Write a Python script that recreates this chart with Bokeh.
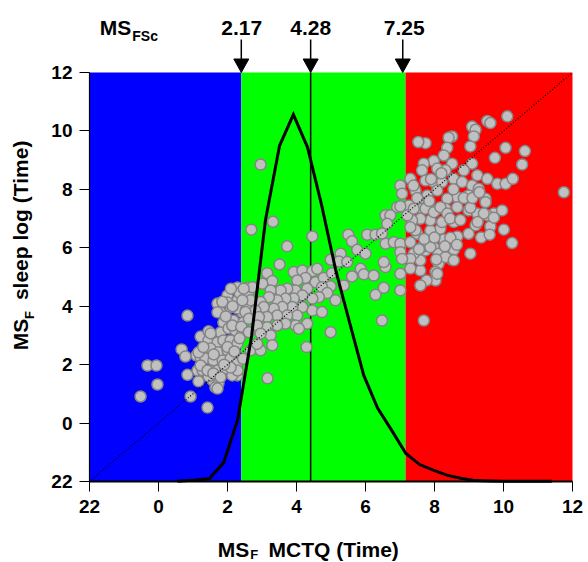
import math
from bokeh.plotting import figure
from bokeh.models import FixedTicker
from bokeh.core.properties import value
from bokeh.embed import file_html
from bokeh.resources import INLINE

FONT = "Liberation Sans"

# colour bands
region_left = [-2.0, 2.40, 7.16]
region_right = [2.40, 7.16, 12.0]
region_colors = ["#0000FF", "#00FF00", "#FF0000"]

# markers above the frame
marker_x = [2.40, 4.41, 7.08]
marker_text_x = [2.41, 4.41, 7.12]
marker_labels = ["2.17", "4.28", "7.25"]
vline_x = 4.41

tick_vals = [-2, 0, 2, 4, 6, 8, 10, 12]
tick_labels = ["22", "0", "2", "4", "6", "8", "10", "12"]

# distribution curve
curve_x = [0.55, 1.08, 1.48, 1.89, 2.29, 2.70, 3.10, 3.51, 3.91, 4.32, 4.73, 5.14, 5.54,
           5.95, 6.35, 6.76, 7.17, 7.57, 7.98, 8.38, 8.79, 9.20, 9.60, 10.0, 10.4, 10.8, 11.4]
curve_y = [-1.99, -1.95, -1.90, -1.35, 0.09, 3.00, 6.94, 9.50, 10.56, 9.44, 7.45, 5.22, 3.44,
           1.63, 0.51, -0.25, -1.04, -1.42, -1.62, -1.79, -1.90, -1.97, -1.98, -1.99, -1.99, -1.99, -1.99]

diag_x = [-2, 12]
diag_y = [-2, 12]

# scatter: MCTQ (x) vs sleep log (y)
cluster_pts = [
    (-0.52, 0.91), (-0.32, 1.97), (-0.06, 1.97), (-0.03, 1.32), (0.84, 3.68), (0.93, 0.91), (1.42, 0.53),
    (0.67, 2.52), (0.78, 2.28), (1.22, 2.96), (1.45, 3.14), (1.10, 2.31), (1.22, 2.25), (1.16, 1.43),
    (1.13, 1.80), (1.28, 1.80), (1.71, 4.09), (2.00, 4.37), (2.29, 4.64), (2.58, 4.64), (1.80, 3.79),
    (2.09, 3.96), (2.29, 4.20), (2.43, 3.79), (1.88, 3.44), (2.17, 3.51), (2.46, 3.44), (1.80, 3.10),
    (2.03, 3.24), (2.23, 3.17), (2.43, 3.07), (1.45, 2.83), (1.71, 2.76), (1.88, 2.83), (2.09, 2.83),
    (2.29, 2.72), (1.51, 2.55), (1.74, 2.42), (2.00, 2.49), (2.23, 2.38), (1.36, 2.21), (1.59, 2.14),
    (1.86, 2.14), (2.09, 2.21), (2.29, 2.04), (1.51, 1.80), (1.71, 1.80), (1.94, 1.87), (2.17, 1.70),
    (1.57, 1.46), (1.74, 1.36), (1.65, 1.22), (1.45, 1.60), (2.29, 1.63), (2.67, 2.49), (2.96, 2.49),
    (3.16, 1.53), (0.84, 1.65), (1.16, 2.42), (1.71, 3.79), (2.00, 4.13), (2.29, 3.92), (2.14, 3.34),
    (1.51, 3.07), (1.30, 2.60), (1.22, 1.97), (1.42, 1.80), (1.59, 1.70), (1.80, 1.57), (1.71, 1.18),
    (2.14, 1.63), (2.29, 1.80), (2.09, 1.90), (2.35, 4.45), (2.15, 4.00), (1.95, 3.65), (2.40, 3.30),
    (2.00, 2.60), (1.60, 2.35), (2.35, 2.90), (1.90, 2.00), (2.20, 2.45), (2.45, 2.20), (2.55, 3.90),
    (2.60, 4.40), (1.85, 4.15), (2.10, 4.60),
]
band_pts = [
    (2.69, 6.62), (3.32, 6.89), (2.96, 8.85), (4.46, 6.39), (3.73, 6.05), (5.50, 6.45), (5.61, 6.22),
    (6.05, 6.45), (6.29, 6.45), (6.58, 6.14), (6.82, 6.19), (5.76, 5.93), (6.00, 5.80), (5.28, 5.80),
    (4.99, 5.59), (5.23, 5.53), (5.47, 5.51), (3.51, 5.43), (3.15, 5.13), (3.30, 4.86), (3.92, 5.17),
    (4.17, 5.22), (4.46, 5.20), (4.60, 5.28), (4.26, 4.97), (4.02, 4.88), (4.55, 4.82), (4.79, 4.97),
    (5.03, 5.13), (5.86, 5.28), (5.95, 5.09), (6.24, 5.05), (6.58, 5.34), (5.61, 5.02), (5.37, 4.71),
    (3.01, 4.77), (4.99, 4.68), (4.74, 4.65), (4.31, 4.60), (3.97, 4.54), (3.73, 4.60), (3.54, 4.54),
    (3.25, 4.54), (2.72, 4.65), (2.47, 4.60), (6.29, 4.39), (6.53, 4.63), (4.89, 4.45), (4.65, 4.31),
    (4.46, 4.26), (4.17, 4.37), (3.92, 4.26), (3.68, 4.26), (3.44, 4.20), (3.20, 4.31), (2.96, 4.14),
    (2.67, 4.20), (2.43, 4.20), (5.13, 4.20), (4.46, 3.85), (4.74, 3.80), (4.17, 3.97), (3.88, 3.97),
    (3.59, 3.97), (3.34, 3.91), (3.05, 3.97), (2.81, 3.85), (2.52, 3.80), (4.02, 3.68), (3.73, 3.68),
    (3.44, 3.68), (3.15, 3.63), (2.91, 3.63), (2.62, 3.57), (3.97, 3.34), (3.68, 3.40), (3.44, 3.34),
    (3.15, 3.28), (2.86, 3.34), (4.31, 3.40), (4.99, 3.11), (6.48, 3.51), (4.07, 3.23), (3.25, 3.00),
    (2.96, 3.06), (2.62, 3.11), (2.86, 2.71), (3.30, 2.66), (4.29, 2.60), (6.92, 7.39), (6.58, 7.11),
    (6.72, 7.11), (6.63, 6.82), (6.48, 6.49), (7.01, 6.14), (7.01, 5.85), (6.53, 5.51), (7.01, 5.11),
    (7.01, 4.54),
]
late_pts = [
    (10.11, 10.50), (9.53, 10.34), (9.62, 10.27), (9.09, 10.15), (9.19, 10.04), (9.14, 9.81), (8.51, 9.81),
    (8.41, 9.77), (7.74, 9.58), (8.37, 9.42), (9.04, 9.47), (10.06, 9.42), (10.62, 9.31), (9.75, 9.08),
    (10.54, 8.85), (8.27, 9.16), (8.51, 8.88), (7.98, 8.97), (7.69, 8.88), (7.64, 8.65), (8.08, 8.71),
    (8.32, 8.65), (9.09, 8.88), (8.85, 8.65), (9.24, 8.48), (9.53, 8.36), (9.82, 8.19), (10.06, 8.19),
    (10.27, 8.36), (11.75, 7.90), (7.30, 8.36), (7.01, 8.13), (7.06, 7.85), (7.45, 7.96), (7.74, 8.30),
    (7.98, 8.25), (8.22, 8.25), (8.56, 8.36), (8.80, 8.25), (9.09, 8.13), (9.28, 8.02), (8.99, 7.79),
    (8.66, 7.73), (8.37, 7.68), (8.08, 7.96), (7.79, 7.79), (7.54, 7.62), (7.26, 7.45), (7.01, 7.42),
    (7.64, 7.34), (8.03, 7.28), (8.32, 7.34), (8.66, 7.39), (8.99, 7.28), (9.48, 7.68), (9.72, 7.17),
    (9.96, 7.28), (9.53, 7.11), (9.24, 7.17), (10.25, 6.16), (9.04, 5.80), (10.01, 6.62), (9.19, 6.77),
    (8.99, 6.48), (9.62, 6.73), (8.66, 6.39), (8.56, 5.93), (8.51, 5.59), (8.12, 5.45), (8.03, 5.17),
    (8.03, 4.88), (7.77, 4.88), (7.59, 5.22), (7.59, 5.57), (7.74, 5.91), (7.64, 6.02), (7.98, 6.02),
    (8.27, 6.28), (8.46, 6.34), (8.17, 6.65), (8.56, 6.88), (8.22, 6.88), (7.88, 6.59), (7.50, 6.48),
    (7.30, 6.19), (7.40, 5.80), (7.30, 5.62), (7.88, 6.94), (7.59, 6.99), (7.35, 6.94), (7.21, 7.11),
    (7.40, 7.34), (7.74, 7.34), (7.98, 7.22), (8.17, 7.39), (8.37, 7.17), (8.12, 5.80), (8.32, 5.68),
    (7.69, 3.51), (9.04, 7.37), (9.48, 7.56), (9.43, 7.17), (9.72, 7.03), (9.25, 6.88), (8.56, 5.57),
    (7.88, 6.02), (7.06, 5.62), (8.08, 5.11), (7.30, 5.29), (7.59, 4.71), (7.53, 9.62), (7.39, 8.13),
    (7.45, 6.60), (7.70, 6.30), (8.00, 6.35), (8.30, 6.05), (8.45, 7.00), (8.75, 6.95), (8.85, 7.70),
    (7.85, 7.60), (8.55, 8.00), (8.20, 8.55), (7.90, 8.35), (7.50, 7.70), (7.30, 6.70), (8.65, 6.10),
    (9.10, 7.70), (9.30, 7.90), (8.05, 5.60), (7.55, 5.95), (9.35, 6.35), (9.60, 6.45),
]
all_pts = cluster_pts + band_pts + late_pts
mctq_x = [q[0] for q in all_pts]
log_y = [q[1] for q in all_pts]

# geometry: data area -2..12 spans 89..572 px horizontally and 72..481 px vertically
W, H = 588, 562
PX_X = 483 / 14.0
PX_Y = 409 / 14.0
X0 = -2 - 89 / PX_X
X1 = 12 + (W - 572) / PX_X
Y1 = 12 + 72 / PX_Y
Y0 = -2 - (H - 481) / PX_Y
MID = 0.3465  # baseline -> middle of the text box, in font sizes

p = figure(width=W, height=H, x_range=(X0, X1), y_range=(Y0, Y1), title=None,
           output_backend="svg", toolbar_location=None,
           min_border_left=0, min_border_right=0, min_border_top=0, min_border_bottom=0,
           background_fill_color="white", border_fill_color="white", outline_line_color=None)
p.grid.visible = False

p.quad(left=region_left, right=region_right, bottom=[-2] * 3, top=[12] * 3,
       fill_color=region_colors, line_color=None)
p.segment(x0=[vline_x], y0=[-2], x1=[vline_x], y1=[12], line_color="black", line_width=1.5)
p.scatter(mctq_x, log_y, size=11, fill_color="#C0C0C0", line_color="#858585", line_width=1.5)
p.line(diag_x, diag_y, line_color="black", line_width=1.2, line_dash="1 2")
p.line(curve_x, curve_y, line_color="black", line_width=3, line_join="miter")

# arrows above the colour bands
head_h = 13.5 / PX_Y
head_w = 7.5 / PX_X
p.segment(x0=marker_x, y0=[12 + head_h] * 3, x1=marker_x, y1=[12 + 33 / PX_Y] * 3,
          line_color="black", line_width=1.5)
p.patches(xs=[[mx - head_w, mx + head_w, mx] for mx in marker_x],
          ys=[[12 + head_h, 12 + head_h, 12.0] for _ in marker_x],
          fill_color="black", line_color="black", line_width=1)


def htext(xs, base_y, texts, size, align="left"):
    dy = MID * size / PX_Y
    p.text(x=xs, y=[base_y + dy] * len(xs), text=texts, text_font=value(FONT),
           text_font_size=f"{size}px", text_font_style="bold", text_color="black",
           text_align=align, text_baseline="middle")


def vtext(base_x, ys, texts, size):
    dx = MID * size / PX_X
    p.text(x=[base_x - dx] * len(ys), y=ys, text=texts, text_font=value(FONT),
           text_font_size=f"{size}px", text_font_style="bold", text_color="black",
           text_align="left", text_baseline="middle", angle=math.pi / 2)


htext(marker_text_x, 13.29, marker_labels, 21, align="center")
# top-left: MS_FSc
htext([-1.70], 13.29, ["MS"], 21)
htext([-0.76], 13.08, ["FSc"], 14)
# x-axis title: MS_F  MCTQ (Time)
htext([1.72, 3.19], -4.59, ["MS", "MCTQ (Time)"], 21)
htext([2.66], -4.65, ["F"], 13)
# y-axis title (rotated): MS_F  sleep log (Time)
vtext(-3.80, [2.49, 4.21], ["MS", "sleep log (Time)"], 21)
vtext(-3.62, [3.56], ["F"], 13)

xax = p.xaxis[0]
yax = p.yaxis[0]
for ax in (xax, yax):
    ax.fixed_location = -2
    ax.bounds = (-2, 12)
    ax.ticker = FixedTicker(ticks=tick_vals)
    ax.major_label_overrides = {v: l for v, l in zip(tick_vals, tick_labels)}
    ax.major_label_text_font = FONT
    ax.major_label_text_font_size = "19px"
    ax.major_label_text_font_style = "bold"
    ax.major_label_text_color = "black"
    ax.major_tick_in = 0
    ax.major_tick_out = 10
    ax.minor_tick_in = 0
    ax.minor_tick_out = 0
    ax.major_tick_line_color = "black"
    ax.axis_line_color = "black"
    ax.axis_label = None
yax.axis_line_width = 1.2
xax.axis_line_width = 2
yax.major_label_standoff = 7
xax.major_label_standoff = 8

open("out.html", "w").write(file_html(p, INLINE))
